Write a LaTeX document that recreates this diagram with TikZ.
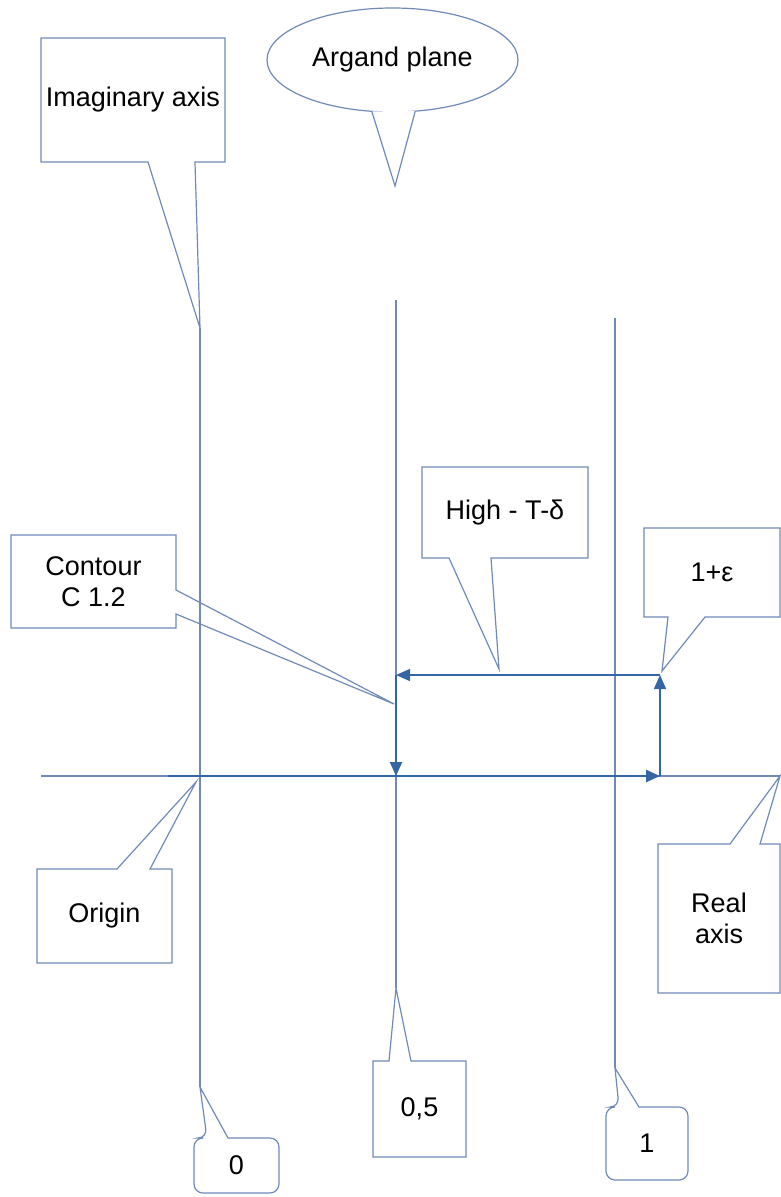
\documentclass[tikz,border=0pt]{standalone}
\usepackage{fontspec}
\setmainfont{Liberation Sans}
\usetikzlibrary{arrows.meta,shapes.geometric,calc}
\definecolor{boxblue}{RGB}{112,138,184}
\definecolor{pathblue}{RGB}{52,101,164}

\begin{document}
\begin{tikzpicture}[x=1pt,y=-1pt,
    every node/.style={font=\fontsize{27}{31}\selectfont, inner sep=0pt, outer sep=0pt, align=center},
    axisline/.style={draw=boxblue, line width=1.2pt},
    bubble/.style={draw=boxblue, line width=1.2pt},
    contourpath/.style={draw=pathblue, line width=2.4pt, -{Triangle[length=14pt,width=12pt]}}]
    \useasboundingbox (0,0) rectangle (781,1197);

    % points of the plane
    \coordinate (axL) at (41,776);
    \coordinate (tipReal) at (780,776);
    \coordinate (tipImag) at (200,328);
    \coordinate (tipZero) at (200,1087);
    \coordinate (halfTop) at (396,300);
    \coordinate (tipHalf) at (396,988);
    \coordinate (oneTop) at (615,318);
    \coordinate (tipOne) at (615,1068);
    \coordinate (tipArgand) at (395,186);
    \coordinate (tipHigh) at (499,669);
    \coordinate (tipEps) at (662,671);
    \coordinate (tipContour) at (394,704);
    \coordinate (tipOrigin) at (196,782);

    % axes and grid lines
    \draw[axisline] (axL) -- (tipReal);
    \draw[axisline] (tipImag) -- (tipZero);
    \draw[axisline] (halfTop) -- (tipHalf);
    \draw[axisline] (oneTop) -- (tipOne);

    % the contour
    \coordinate (thickStart) at (168,776);
    \coordinate (cA) at (396,675);
    \coordinate (cB) at (396,776);
    \coordinate (cC) at (660,776);
    \coordinate (cD) at (660,675);
    \draw[contourpath] (thickStart) -- (cC);
    \draw[contourpath] (cA) -- (cB);
    \draw[contourpath, line width=1.5pt] (cC) -- (cD);
    \draw[contourpath, line width=1.5pt] (cD) -- (cA);

    % labels
    \node[minimum width=184pt, minimum height=124pt] (imag) at (133,100) {Imaginary axis};
    \node[ellipse, draw=boxblue, line width=1.2pt, minimum width=251pt, minimum height=104pt] (argand) at (392.5,60) {Argand plane};
    \node[minimum width=166pt, minimum height=91pt] (high) at (505,512.5) {High - T-δ};
    \node[minimum width=136pt, minimum height=89pt] (eps) at (712,572.5) {1+ε};
    \node[minimum width=165pt, minimum height=93pt] (contour) at (93.5,581.5) {Contour\\C 1.2};
    \node[minimum width=135pt, minimum height=94pt] (origin) at (104.5,916) {Origin};
    \node[minimum width=122pt, minimum height=149pt] (real) at (719,918.5) {Real\\axis};
    \node[minimum width=93pt, minimum height=96pt] (half) at (419.5,1109) {0,5};
    \node[minimum width=82pt, minimum height=73pt] (one) at (647,1143.5) {1};
    \node[minimum width=85pt, minimum height=55pt] (zero) at (236.5,1165.5) {0};

    % callout outlines
    \draw[bubble] (imag.north west) -- (imag.north east) -- (imag.south east) -- ($(imag.south west)+(154,0)$) -- (tipImag) -- ($(imag.south west)+(107,0)$) -- (imag.south west) -- cycle;
    \fill[white] (argand.-112) -- (tipArgand) -- (argand.-66) -- cycle;
    \draw[bubble] (argand.-112) -- (tipArgand) -- (argand.-66);
    \draw[bubble] (high.north west) -- (high.north east) -- (high.south east) -- ($(high.south west)+(69,0)$) -- (tipHigh) -- ($(high.south west)+(27,0)$) -- (high.south west) -- cycle;
    \draw[bubble] (eps.north west) -- (eps.north east) -- (eps.south east) -- ($(eps.south west)+(61,0)$) -- (tipEps) -- ($(eps.south west)+(24,0)$) -- (eps.south west) -- cycle;
    \draw[bubble] (contour.north west) -- (contour.north east) -- ($(contour.north east)+(0,55)$) -- (tipContour) -- ($(contour.north east)+(0,79)$) -- (contour.south east) -- (contour.south west) -- cycle;
    \draw[bubble] (origin.south west) -- (origin.north west) -- ($(origin.north west)+(80,0)$) -- (tipOrigin) -- ($(origin.north west)+(113,0)$) -- (origin.north east) -- (origin.south east) -- cycle;
    \draw[bubble] (real.south west) -- (real.north west) -- ($(real.north west)+(72,0)$) -- (tipReal) -- ($(real.north west)+(102,0)$) -- (real.north east) -- (real.south east) -- cycle;
    \draw[bubble] (half.south west) -- (half.north west) -- ($(half.north west)+(16,0)$) -- (tipHalf) -- ($(half.north west)+(38,0)$) -- (half.north east) -- (half.south east) -- cycle;
    \draw[bubble, rounded corners=9pt] (one.south west) -- (one.north west) -- ($(one.north west)+(13,0)$) [sharp corners] -- (tipOne) -- ($(one.north west)+(33,0)$) [rounded corners=9pt] -- (one.north east) -- (one.south east) -- cycle;
    \draw[bubble, rounded corners=9pt] (zero.south west) -- (zero.north west) -- ($(zero.north west)+(13,0)$) [sharp corners] -- (tipZero) -- ($(zero.north west)+(34,0)$) [rounded corners=9pt] -- (zero.north east) -- (zero.south east) -- cycle;
\end{tikzpicture}
\end{document}
